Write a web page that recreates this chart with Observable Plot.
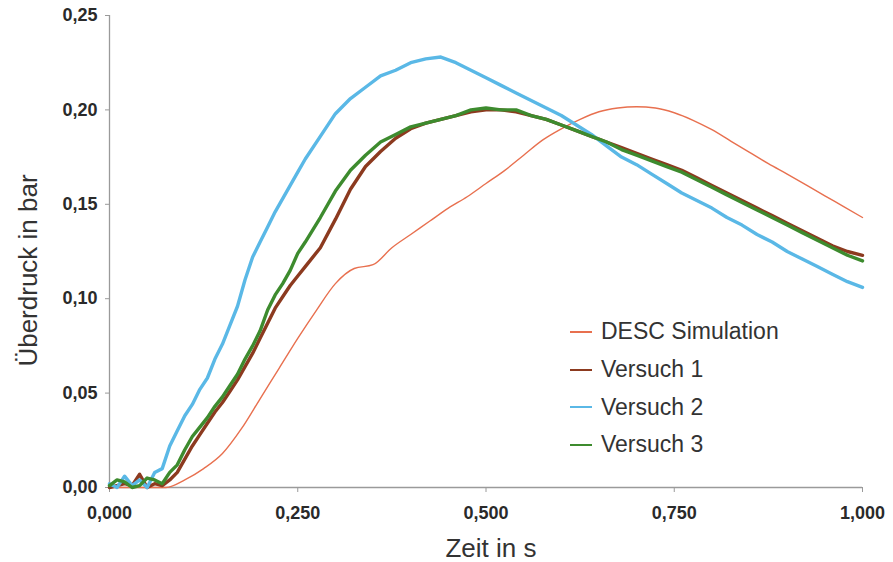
<!DOCTYPE html>
<html>
<head>
<meta charset="utf-8">
<script src="https://cdn.jsdelivr.net/npm/d3@7"></script>
<script src="https://cdn.jsdelivr.net/npm/@observablehq/plot@0.6"></script>
<style>
  html, body { margin: 0; padding: 0; background: #fff; }
  #chart { position: relative; width: 893px; height: 562px; font-family: "Liberation Sans", Arial, sans-serif; }
  #legend { position: absolute; left: 570px; top: 313px; color: #333; font-size: 23px; }
  #legend .row { display: flex; align-items: center; height: 37.7px; }
  #legend .swatch { width: 22px; height: 2px; margin-right: 9px; }
</style>
</head>
<body>
<div id="chart"><div id="legend"></div></div>
<script>
// Simulated overpressure (bar) over time (s)
const tSim = [0, 0.025, 0.05, 0.075, 0.1, 0.125, 0.15, 0.175, 0.2, 0.225, 0.25, 0.275, 0.3, 0.325, 0.35, 0.375,
  0.4, 0.425, 0.45, 0.475, 0.5, 0.525, 0.55, 0.575, 0.6, 0.625, 0.65, 0.675, 0.7, 0.725, 0.75, 0.775,
  0.8, 0.825, 0.85, 0.875, 0.9, 0.925, 0.95, 0.975, 1.0];
const pSim = [0, 0, 0, 0.000, 0.004, 0.010, 0.018, 0.031, 0.047, 0.063, 0.079, 0.094, 0.108, 0.116, 0.118, 0.127,
  0.134, 0.141, 0.148, 0.154, 0.161, 0.168, 0.176, 0.184, 0.190, 0.195, 0.199, 0.201, 0.2017, 0.201, 0.1985, 0.1945,
  0.1895, 0.1835, 0.1775, 0.1715, 0.166, 0.1603, 0.1545, 0.1488, 0.143];

// Measured overpressure, three test runs, on a shared time base
const tMess = [0, 0.01, 0.02, 0.03, 0.04, 0.05, 0.06, 0.07, 0.08, 0.09, 0.10, 0.11, 0.12, 0.13, 0.14, 0.15,
  0.16, 0.17, 0.18, 0.19, 0.20, 0.21, 0.22, 0.23, 0.24, 0.25, 0.26,
  0.28, 0.30, 0.32, 0.34, 0.36, 0.38, 0.40, 0.42, 0.44, 0.46, 0.48, 0.50, 0.52, 0.54, 0.56, 0.58, 0.60,
  0.62, 0.64, 0.66, 0.68, 0.70, 0.72, 0.74, 0.76, 0.78, 0.80, 0.82, 0.84, 0.86, 0.88, 0.90, 0.92, 0.94,
  0.96, 0.98, 1.00];
const pV1 = [0.000, 0.001, 0.002, 0.001, 0.007, 0.000, 0.002, 0.001, 0.004, 0.008, 0.015, 0.022, 0.028, 0.034,
  0.040, 0.045, 0.051, 0.057, 0.064, 0.071, 0.079, 0.087, 0.095, 0.101, 0.107, 0.112, 0.117,
  0.127, 0.142, 0.158, 0.170, 0.178, 0.185, 0.190, 0.193, 0.195, 0.197, 0.199, 0.200, 0.200, 0.199, 0.197,
  0.195, 0.192, 0.189, 0.186, 0.183, 0.180, 0.177, 0.174, 0.171, 0.168, 0.164, 0.160, 0.156, 0.152, 0.148,
  0.144, 0.140, 0.136, 0.132, 0.128, 0.125, 0.123];
const pV2 = [0.002, 0.000, 0.006, 0.001, 0.004, 0.000, 0.008, 0.010, 0.022, 0.030, 0.038, 0.044, 0.052, 0.058,
  0.068, 0.076, 0.086, 0.096, 0.110, 0.122, 0.130, 0.138, 0.146, 0.153, 0.160, 0.167, 0.174,
  0.186, 0.198, 0.206, 0.212, 0.218, 0.221, 0.225, 0.227, 0.228, 0.225, 0.221, 0.217, 0.213, 0.209, 0.205,
  0.201, 0.197, 0.192, 0.187, 0.181, 0.175, 0.171, 0.166, 0.161, 0.156, 0.152, 0.148, 0.143, 0.139, 0.134,
  0.130, 0.125, 0.121, 0.117, 0.113, 0.109, 0.106];
const pV3 = [0.001, 0.004, 0.003, 0.000, 0.001, 0.005, 0.004, 0.002, 0.008, 0.012, 0.020, 0.027, 0.032, 0.037,
  0.043, 0.048, 0.054, 0.060, 0.068, 0.075, 0.083, 0.094, 0.102, 0.108, 0.115, 0.124, 0.130,
  0.143, 0.157, 0.168, 0.176, 0.183, 0.187, 0.191, 0.193, 0.195, 0.197, 0.200, 0.201, 0.200, 0.200, 0.197,
  0.195, 0.192, 0.189, 0.186, 0.183, 0.179, 0.176, 0.173, 0.170, 0.167, 0.163, 0.159, 0.155, 0.151, 0.147,
  0.143, 0.139, 0.135, 0.131, 0.127, 0.123, 0.120];

const seriesNames = ["DESC Simulation", "Versuch 1", "Versuch 2", "Versuch 3"];
const seriesColors = ["#e8704f", "#8c3a1f", "#5ab8e6", "#3d8b2e"];

const xTicks = [0, 0.25, 0.5, 0.75, 1];
const xTickLabels = ["0,000", "0,250", "0,500", "0,750", "1,000"];
const yTicks = [0, 0.05, 0.1, 0.15, 0.2, 0.25];
const yTickLabels = ["0,00", "0,05", "0,10", "0,15", "0,20", "0,25"];

const simRows = tSim.map((t, i) => ({t, p: pSim[i], s: seriesNames[0]}));
const messRows = [pV1, pV2, pV3].flatMap((ps, k) =>
  tMess.map((t, i) => ({t, p: ps[i], s: seriesNames[k + 1]})));

const axisGray = "#9a9a9a";

const chart = Plot.plot({
  width: 893,
  height: 562,
  marginLeft: 109,
  marginRight: 31,
  marginTop: 15,
  marginBottom: 75,
  style: {fontFamily: "Liberation Sans, Arial, sans-serif", background: "white"},
  x: {domain: [0, 1]},
  y: {domain: [0, 0.25]},
  color: {domain: seriesNames, range: seriesColors},
  marks: [
    Plot.ruleY([0], {stroke: axisGray, strokeWidth: 1.3}),
    Plot.ruleX([0], {stroke: axisGray, strokeWidth: 1.3}),
    Plot.axisX(xTicks, {
      tickSize: 5, tickPadding: 14, stroke: axisGray,
      tickFormat: (d, i) => xTickLabels[i],
      fontSize: 18, fontWeight: "bold", fill: "#2a2a2a", label: null
    }),
    Plot.axisY(yTicks, {
      tickSize: 4, tickPadding: 8, stroke: axisGray,
      tickFormat: (d, i) => yTickLabels[i],
      fontSize: 18, fontWeight: "bold", fill: "#2a2a2a", label: null
    }),
    Plot.text(["Zeit in s"], {
      frameAnchor: "bottom", lineAnchor: "middle", dy: 61, dx: 5,
      fontSize: 26, fill: "#333"
    }),
    Plot.text(["Überdruck in bar"], {
      frameAnchor: "left", lineAnchor: "middle", textAnchor: "middle", rotate: -90,
      dx: -81, dy: 19, fontSize: 26, fill: "#333"
    }),
    Plot.line(simRows, {x: "t", y: "p", stroke: "s", strokeWidth: 1.4, curve: "monotone-x"}),
    Plot.line(messRows, {x: "t", y: "p", z: "s", stroke: "s", strokeWidth: 3.4, strokeLinejoin: "round"})
  ]
});

const host = document.getElementById("chart");
host.insertBefore(chart, host.firstChild);

const legend = document.getElementById("legend");
seriesNames.forEach((name, i) => {
  const row = document.createElement("div");
  row.className = "row";
  const sw = document.createElement("span");
  sw.className = "swatch";
  sw.style.background = seriesColors[i];
  const label = document.createElement("span");
  label.textContent = name;
  row.appendChild(sw);
  row.appendChild(label);
  legend.appendChild(row);
});
</script>
</body>
</html>
